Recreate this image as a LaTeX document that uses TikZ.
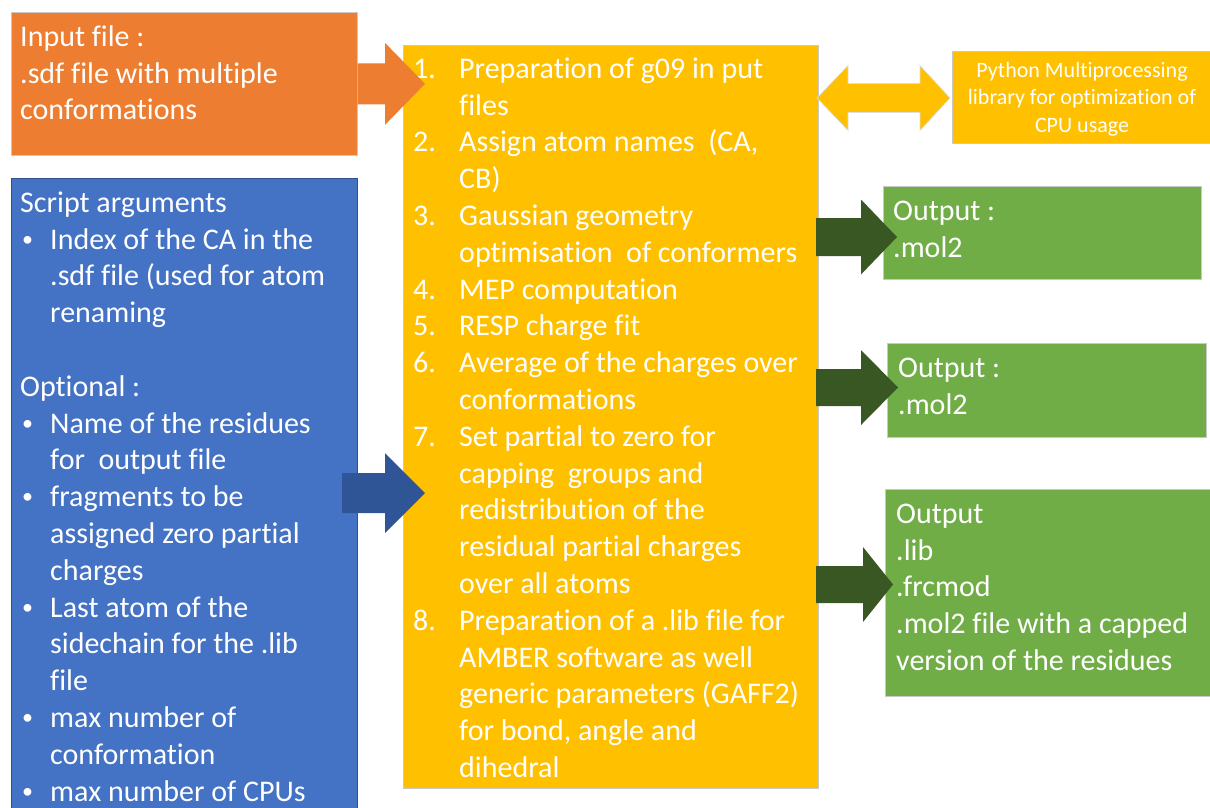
\documentclass[tikz,border=0pt]{standalone}
\usepackage{fontspec}
\setmainfont{Carlito}[Ligatures=NoCommon]
\usetikzlibrary{calc}
\definecolor{cOrange}{HTML}{ED7D31}
\definecolor{cYellow}{HTML}{FFC000}
\definecolor{cBlue}{HTML}{4472C4}
\definecolor{cBlueDark}{HTML}{2F528F}
\definecolor{cBlueArrow}{HTML}{2F5597}
\definecolor{cGreen}{HTML}{70AD47}
\definecolor{cGreenDark}{HTML}{385723}
\definecolor{cEdge}{HTML}{C8C8C8}
\newcommand\blockarrow[6]{%
 \path[#1] let \p1=(#2), \p2=(#3) in
 (\x1,\y1+#4) -- (\x2-#6,\y1+#4) -- (\x2-#6,\y1+#5) -- (\x2,\y1)
 -- (\x2-#6,\y1-#5) -- (\x2-#6,\y1-#4) -- (\x1,\y1-#4) -- cycle;}
\newcommand\fl{\rule{0pt}{28pt}}
\newcommand\bul{\makebox[30pt][l]{\hspace{2pt}\raisebox{3pt}{\fontsize{22}{22}\selectfont\textbullet}}}
\newcommand\bind{\hspace*{30pt}}
\newcommand\itm[1]{\makebox[46pt][l]{#1}}
\newcommand\yind{\hspace*{46pt}}
\tikzset{
 box/.style={draw=cEdge, line width=0.7pt, inner sep=0pt, anchor=north west},
 txt/.style={anchor=north west, inner sep=0pt, text=white, align=left,
   font=\fontsize{30}{36.8}\selectfont},
 pytxt/.style={anchor=north, inner sep=0pt, text=white, align=center,
   font=\fontsize{22}{27.5}\selectfont},
}
\begin{document}
\begin{tikzpicture}[x=1pt,y=-1pt]
\useasboundingbox (0,0) rectangle (1210,807);
% boxes
\node[box, fill=cOrange, minimum width=346pt, minimum height=143pt] (inp) at (11,12) {};
\node[box, fill=cBlue, draw=cBlueDark, line width=1.2pt, minimum width=346pt, minimum height=635pt] (args) at (11,178) {};
\node[box, fill=cYellow, minimum width=415pt, minimum height=743pt] (proc) at (403,45) {};
\node[box, fill=cYellow, minimum width=262pt, minimum height=92pt] (py) at (952,51) {};
\node[box, fill=cGreen, minimum width=318pt, minimum height=93pt] (out1) at (883,186) {};
\node[box, fill=cGreen, minimum width=319pt, minimum height=94pt] (out2) at (887,343) {};
\node[box, fill=cGreen, minimum width=330pt, minimum height=207pt] (out3) at (885,489) {};
% texts
\node[txt] (tinp) at (20,18) {\fl Input file :\\.sdf file with multiple\\conformations};
\node[txt] (targs) at (20,184) {\fl Script arguments\\
\bul Index of the CA in the\\
\bind .sdf file (used for atom\\
\bind renaming\\
~\\
Optional :\\
\bul Name of the residues\\
\bind for\ \ output file\\
\bul fragments to be\\
\bind assigned zero partial\\
\bind charges\\
\bul Last atom of the\\
\bind sidechain for the .lib\\
\bind file\\
\bul max number of\\
\bind conformation\\
\bul max number of CPUs};
\node[txt] (tproc) at (413,50) {\fl\itm{1.}Preparation of g09 in put\\
\yind files\\
\itm{2.}Assign atom names\ \ (CA,\\
\yind CB)\\
\itm{3.}Gaussian geometry\\
\yind optimisation\ \ of conformers\\
\itm{4.}MEP computation\\
\itm{5.}RESP charge fit\\
\itm{6.}Average of the charges over\\
\yind conformations\\
\itm{7.}Set partial to zero for\\
\yind capping\ \ groups and\\
\yind redistribution of the\\
\yind residual partial charges\\
\yind over all atoms\\
\itm{8.}Preparation of a .lib file for\\
\yind AMBER software as well\\
\yind generic parameters (GAFF2)\\
\yind for bond, angle and\\
\yind dihedral};
\node[pytxt] (tpy) at (1082,57) {\rule{0pt}{20pt}Python Multiprocessing\\library for optimization of\\CPU usage};
\node[txt] (tout1) at (893,192) {\fl Output :\\.mol2};
\node[txt] (tout2) at (898,349) {\fl Output :\\.mol2};
\node[txt] (tout3) at (896,495) {\fl Output\\.lib\\.frcmod\\.mol2 file with a capped\\version of the residues};
% connector coordinates
\coordinate (tipA) at (425,84);
\coordinate (bst) at (342,493);
\coordinate (tipB) at (425,493);
\coordinate (g1s) at (816,237);
\coordinate (g1t) at (897,237);
\coordinate (g2s) at (816,387.5);
\coordinate (g2t) at (898,387.5);
\coordinate (g3s) at (816,584.5);
\coordinate (g3t) at (893,584.5);
\coordinate (dl) at (817,98);
\coordinate (dr) at (950,98);
% block arrows
\blockarrow{fill=cOrange}{inp.east}{tipA}{20.5pt}{41pt}{40pt}
\blockarrow{fill=cBlueArrow}{bst}{tipB}{20pt}{40pt}{40pt}
\blockarrow{fill=cGreenDark}{g1s}{g1t}{19pt}{37.5pt}{36pt}
\blockarrow{fill=cGreenDark}{g2s}{g2t}{18.5pt}{37.5pt}{37pt}
\blockarrow{fill=cGreenDark}{g3s}{g3t}{18.5pt}{37.5pt}{30pt}
\path[fill=cYellow, draw=cEdge!60, line width=0.7pt] let \p1=(dl), \p2=(dr) in
 (\x1,\y1) -- (\x1+31pt,\y1+32.5pt) -- (\x1+31pt,\y1+14.5pt) -- (\x2-30pt,\y1+14.5pt)
 -- (\x2-30pt,\y1+32.5pt) -- (\x2,\y1) -- (\x2-30pt,\y1-32.5pt) -- (\x2-30pt,\y1-14.5pt)
 -- (\x1+31pt,\y1-14.5pt) -- (\x1+31pt,\y1-32.5pt) -- cycle;
\end{tikzpicture}
\end{document}
